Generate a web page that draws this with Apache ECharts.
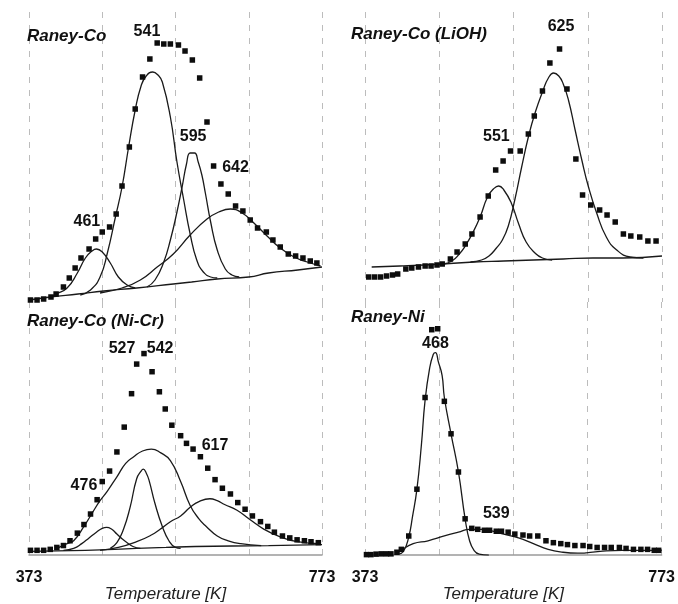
<!DOCTYPE html>
<html>
<head>
<meta charset="utf-8">
<script src="https://cdn.jsdelivr.net/npm/echarts@6/dist/echarts.min.js"></script>
<style>
  html, body { margin: 0; background: #fff; }
  #chart { width: 678px; height: 604px; }
</style>
</head>
<body>
<div id="chart"></div>
<script>
// TPR profiles, temperature [K] vs. signal (a.u.)
// --- Raney-Co ---
const coPoints = [[375,2],[384,2],[393,3],[403,5],[410,8],[420,15],[428,24],[436,34],[444,44],[455,53],[464,63],[473,70],[483,75],[492,88],[500,116],[510,155],[518,193],[528,225],[538,243],[548,259],[557,258],[566,258],[577,257],[586,251],[596,242],[606,224],[616,180],[625,136],[635,118],[645,108],[655,96],[665,91],[675,82],[685,74],[697,70],[706,62],[716,55],[727,48],[737,46],[747,44],[757,41],[766,39]];
const co461 = [[403,5],[410,8],[425,14],[439,29],[450,44],[459,51],[465,53],[473,50],[484,39],[495,25],[507,17],[518,14]];
const co541 = [[443,7],[457,12],[470,25],[480,49],[491,85],[500,115],[509,155],[518,192],[526,216],[533,226],[542,230],[549,227],[555,220],[566,185],[575,140],[584,103],[593,68],[602,42],[611,30],[621,25],[630,24]];
const co595 = [[534,15],[545,22],[557,40],[566,62],[575,90],[582,115],[588,138],[593,149],[599,149],[604,140],[609,127],[614,108],[621,80],[630,52],[641,33],[650,27],[660,25]];
const co642 = [[470,9],[500,14],[525,22],[548,35],[570,48],[593,67],[616,83],[632,90],[648,93],[664,89],[680,79],[698,66],[716,54],[735,45],[753,40],[771,36]];
const coBase = [[373,2],[402,5],[440,8],[475,11],[520,14],[570,18],[595,20],[630,23],[673,25],[700,29],[740,32],[773,35]];
const coPeaks = [[534,270,'541'],[597,165,'595'],[655,134,'642'],[452,80,'461']];

// --- Raney-Co (LiOH) ---
const liPoints = [[378,25],[386,25],[394,25],[402,26],[410,27],[417,28],[428,33],[436,34],[445,35],[454,36],[462,36],[470,37],[477,38],[488,43],[497,50],[508,58],[517,68],[528,85],[539,106],[549,132],[559,141],[569,151],[582,151],[593,168],[601,186],[612,211],[622,239],[635,253],[645,213],[657,143],[666,107],[677,97],[689,92],[699,87],[710,80],[721,68],[731,66],[743,65],[754,61],[765,61]];
const li551 = [[478,38],[490,41],[500,48],[508,56],[518,69],[528,85],[538,105],[546,113],[553,116],[560,112],[570,99],[580,78],[590,60],[602,49],[612,44],[625,42]];
const li625 = [[515,40],[530,42],[540,46],[550,54],[558,62],[566,76],[575,103],[584,135],[593,165],[602,189],[613,212],[620,224],[627,229],[634,226],[640,218],[647,202],[656,172],[665,142],[674,115],[685,89],[698,65],[712,52],[730,45],[748,44]];
const liBase = [[382,35],[420,36],[477,38],[520,40],[560,41],[600,42],[640,43],[680,44],[720,44],[773,46]];
const liPeaks = [[550,165,'551'],[637,275,'625']];

// --- Raney-Co (Ni-Cr) ---
const ncPoints = [[375,5],[384,5],[393,5],[402,6],[411,8],[420,10],[429,15],[439,23],[448,32],[457,43],[466,58],[473,77],[483,88],[493,108],[503,134],[513,169],[520,200],[530,211],[541,192],[551,171],[559,153],[568,136],[580,125],[588,117],[597,111],[607,103],[617,91],[627,79],[637,70],[648,64],[658,55],[668,48],[678,41],[689,35],[699,30],[708,24],[719,20],[729,18],[739,16],[749,15],[758,14],[768,13]];
const nc476 = [[420,5],[434,7],[445,12],[455,18],[465,24],[473,28],[479,29],[486,27],[493,22],[500,17],[507,13],[515,9],[525,7]];
const nc527 = [[484,7],[493,13],[502,27],[511,50],[520,80],[526,88],[529,90],[533,86],[537,78],[545,54],[555,30],[564,15],[573,8],[580,7]];
const nc542 = [[411,7],[425,12],[434,15],[448,30],[460,45],[470,57],[480,67],[493,82],[505,96],[516,103],[528,109],[540,111],[553,107],[566,99],[580,77],[593,52],[605,38],[615,30],[630,20],[645,15],[662,12],[690,10]];
const nc617 = [[470,5],[495,8],[520,14],[540,21],[552,27],[566,35],[580,41],[593,50],[605,56],[620,59],[630,57],[640,53],[657,47],[675,37],[694,27],[716,19],[739,14],[771,12]];
const ncBase = [[373,4],[450,5],[520,7],[560,8],[600,9],[700,10],[773,11]];
const ncPeaks = [[500,216,'527'],[552,216,'542'],[627,115,'617'],[448,73,'476']];

// --- Raney-Ni ---
const niPoints = [[375,0.5],[381,0.5],[388,1],[395,1.3],[402,1.3],[408,1.3],[416,3],[422,6],[432,20],[443,69],[454,165],[463,236],[471,237],[480,161],[489,127],[499,87],[508,38],[517,28],[525,27],[534,26],[541,26],[550,25],[557,25],[566,24],[575,22],[586,21],[595,20],[606,20],[617,15],[627,13],[637,12],[646,11],[656,10],[667,10],[676,9],[686,8],[696,8],[705,8],[716,8],[725,7],[735,6],[745,6],[754,6],[763,5],[769,5]];
const ni468 = [[418,1],[425,4],[432,19],[437,40],[443,69],[449,115],[454,162],[460,195],[465,210],[468,212],[472,202],[477,188],[480,165],[489,127],[499,87],[508,38],[514,15],[520,5],[527,1],[540,0]];
const ni539 = [[415,1],[422,5],[438,12],[458,15],[480,20],[499,24],[514,27],[530,27],[545,25],[560,22],[580,18],[600,12],[620,6],[640,3],[660,2],[690,4],[720,5],[773,5]];
const niPeaks = [[468,221,'468'],[550,43,'539']];

const tickMin = 373, tickMax = 773;
const titles = ['Raney-Co', 'Raney-Co (LiOH)', 'Raney-Co (Ni-Cr)', 'Raney-Ni'];

const FONT = '"Liberation Sans", Arial, sans-serif';
const chart = echarts.init(document.getElementById('chart'));

const grids = [
  { left: 29, width: 293, top: 12, height: 290 },
  { left: 365, width: 297, top: 12, height: 290 },
  { left: 29, width: 293, top: 302, height: 265 },
  { left: 365, width: 297, top: 302, height: 265 }
];

function xAxisFor(i) {
  const bottom = i >= 2;
  return {
    type: 'value', gridIndex: i, min: tickMin, max: tickMax, interval: 100,
    axisLine: { show: bottom, onZero: false, lineStyle: { color: '#9a9a9a', width: 1.5 } },
    axisTick: { show: false },
    axisLabel: {
      show: bottom, margin: 14, fontSize: 16, fontWeight: 'bold', color: '#111', fontFamily: FONT,
      showMinLabel: true, showMaxLabel: true,
      formatter: v => (v === tickMin || v === tickMax) ? String(v) : ''
    },
    name: bottom ? 'Temperature [K]' : '',
    nameLocation: 'middle', nameGap: 28,
    nameTextStyle: { fontSize: 17, fontStyle: 'italic', color: '#222', fontFamily: FONT, padding: [0, 20, 0, 0] },
    splitLine: { show: true, lineStyle: { color: '#bcbcbc', width: 1, type: [6, 7] } }
  };
}

function yAxisFor(i) {
  return { type: 'value', gridIndex: i, min: 0, max: i < 2 ? 290 : 265, show: false, splitLine: { show: false } };
}

function pointsSeries(i, data) {
  return {
    type: 'scatter', xAxisIndex: i, yAxisIndex: i, data: data,
    symbol: 'rect', symbolSize: 5.5, itemStyle: { color: '#0d0d0d', opacity: 1 }, z: 4, silent: true
  };
}

function fitSeries(i, data) {
  return {
    type: 'line', xAxisIndex: i, yAxisIndex: i, data: data, smooth: true,
    showSymbol: false, lineStyle: { color: '#1a1a1a', width: 1.3 }, z: 3, silent: true
  };
}

function peakSeries(i, data) {
  return {
    type: 'scatter', xAxisIndex: i, yAxisIndex: i, data: data, symbolSize: 0, z: 5, silent: true,
    itemStyle: { opacity: 1 },
    label: {
      show: true, position: 'inside', formatter: p => p.data[2], opacity: 1,
      fontSize: 16, fontWeight: 'bold', color: '#111', fontFamily: FONT
    }
  };
}

const titlePos = [
  { left: 27, top: 28 }, { left: 351, top: 26 },
  { left: 27, top: 313 }, { left: 351, top: 309 }
];

const option = {
  animation: false,
  backgroundColor: '#fff',
  title: titles.map((t, i) => ({
    text: t, left: titlePos[i].left, top: titlePos[i].top, padding: 0,
    textStyle: { fontSize: 17, fontWeight: 'bold', fontStyle: 'italic', color: '#111', fontFamily: FONT }
  })),
  grid: grids,
  xAxis: [0, 1, 2, 3].map(xAxisFor),
  yAxis: [0, 1, 2, 3].map(yAxisFor),
  series: [
    fitSeries(0, coBase), fitSeries(0, co461), fitSeries(0, co541), fitSeries(0, co595), fitSeries(0, co642),
    pointsSeries(0, coPoints), peakSeries(0, coPeaks),

    fitSeries(1, liBase), fitSeries(1, li551), fitSeries(1, li625),
    pointsSeries(1, liPoints), peakSeries(1, liPeaks),

    fitSeries(2, ncBase), fitSeries(2, nc476), fitSeries(2, nc527), fitSeries(2, nc542), fitSeries(2, nc617),
    pointsSeries(2, ncPoints), peakSeries(2, ncPeaks),

    fitSeries(3, ni468), fitSeries(3, ni539),
    pointsSeries(3, niPoints), peakSeries(3, niPeaks)
  ]
};

chart.setOption(option);
</script>
</body>
</html>
